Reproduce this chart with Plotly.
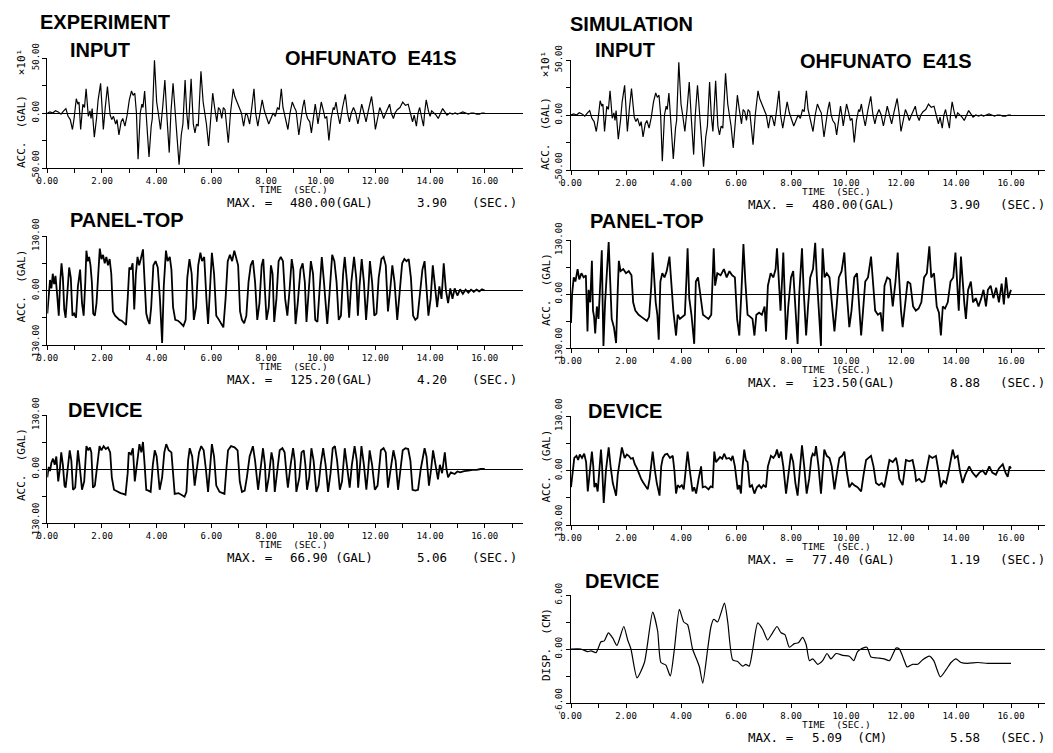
import plotly.graph_objects as go

W, H = 1053, 753

# ---------------- data (time in s, value as plotted) ----------------
# INPUT acceleration, units x10 GAL (same record for experiment and simulation)
INPUT_ACC = [
    (0.00, 0), (0.10, 1), (0.20, 0), (0.30, 2), (0.40, 1), (0.50, -1), (0.60, 2), (0.68, 4),
    (0.76, -3), (0.84, -6), (0.92, -15), (0.98, -5), (1.06, 13), (1.12, 8), (1.16, 10), (1.22, -15),
    (1.30, 8), (1.36, 5), (1.42, 22), (1.50, -3), (1.56, 2), (1.60, -5), (1.64, 4), (1.72, -22),
    (1.80, -5), (1.86, 12), (1.95, 27), (2.05, -15), (2.12, 5), (2.20, 24), (2.30, -2), (2.36, -6),
    (2.42, -3), (2.50, -10), (2.55, -6), (2.62, -20), (2.70, -8), (2.76, -5), (2.84, -12), (2.92, -2),
    (3.00, 12), (3.08, 20), (3.14, 16), (3.20, 18), (3.26, 0), (3.32, -42), (3.40, 0), (3.46, 8),
    (3.50, 5), (3.56, 20), (3.64, -10), (3.72, -40), (3.80, -12), (3.84, -5), (3.92, 48), (4.00, 10),
    (4.06, 0), (4.14, -15), (4.22, 5), (4.30, 30), (4.38, -5), (4.46, -36), (4.52, 0), (4.60, 27),
    (4.68, 0), (4.74, -20), (4.82, -47), (4.90, -20), (4.96, -10), (5.04, 30), (5.10, 0), (5.16, -15),
    (5.20, 10), (5.26, 31), (5.34, -10), (5.40, -18), (5.46, -10), (5.52, -12), (5.62, 38), (5.70, 10),
    (5.76, 0), (5.82, -10), (5.90, -30), (5.98, 0), (6.05, 18), (6.12, 5), (6.20, -8), (6.26, 5),
    (6.32, 3), (6.38, -5), (6.44, 5), (6.50, 3), (6.56, -10), (6.62, -27), (6.70, 0), (6.80, 22),
    (6.86, 15), (6.94, 10), (7.00, 5), (7.10, 0), (7.18, -12), (7.26, 0), (7.32, -2), (7.40, -10),
    (7.48, 5), (7.56, 22), (7.62, 0), (7.70, -12), (7.78, 0), (7.86, 12), (7.94, 2), (8.02, -5),
    (8.10, -10), (8.18, -5), (8.26, 0), (8.34, -3), (8.42, 5), (8.48, 3), (8.56, 22), (8.62, 5),
    (8.70, -5), (8.80, -15), (8.88, 0), (8.96, 10), (9.04, 5), (9.10, 2), (9.20, -20), (9.28, -5),
    (9.34, 5), (9.40, 12), (9.46, 0), (9.52, -5), (9.60, -8), (9.66, -18), (9.74, 0), (9.80, 8),
    (9.86, -2), (9.90, -10), (9.96, 0), (10.02, 10), (10.10, 2), (10.16, -5), (10.22, -3), (10.30, -25),
    (10.38, -5), (10.46, 5), (10.50, 3), (10.56, 10), (10.62, 0), (10.70, -10), (10.80, 5), (10.90, 17),
    (10.98, 0), (11.05, -8), (11.12, 0), (11.20, 5), (11.28, 0), (11.36, -10), (11.44, 0), (11.50, 8),
    (11.58, 0), (11.66, -8), (11.74, 2), (11.86, 15), (11.94, 0), (12.00, -15), (12.08, -5), (12.16, 5),
    (12.24, 0), (12.30, -5), (12.38, 0), (12.46, 5), (12.52, 8), (12.58, 0), (12.66, -5), (12.72, 0),
    (12.80, 3), (12.90, 5), (13.00, 10), (13.10, 7), (13.20, 8), (13.28, 0), (13.36, -8), (13.42, -2),
    (13.50, -12), (13.56, 0), (13.62, 5), (13.70, -5), (13.76, -12), (13.80, 0), (13.86, 12), (13.94, 2),
    (14.00, -3), (14.06, 2), (14.14, 0), (14.22, -2), (14.30, -5), (14.38, 0), (14.46, 4), (14.54, 1),
    (14.62, -2), (14.72, 0), (14.82, -1), (14.92, 0), (15.00, -1), (15.10, 0), (15.20, 1), (15.30, 0),
    (15.40, -1), (15.50, 0), (15.60, 0), (15.70, -1), (15.80, -1), (15.90, 0), (16.00, 0),
]

# Experiment PANEL-TOP acceleration (GAL)
PANEL_EXP = [
    (0.00, -55), (0.05, -20), (0.10, 25), (0.15, 5), (0.20, 40), (0.25, 15), (0.30, 35), (0.36, -10),
    (0.42, -60), (0.47, 20), (0.52, 65), (0.57, 30), (0.62, -45), (0.67, -65), (0.73, 0), (0.80, 55),
    (0.86, 30), (0.92, -60), (0.98, -55), (1.05, -65), (1.12, 10), (1.20, 50), (1.27, -30), (1.33, -60),
    (1.39, 20), (1.43, 95), (1.48, 70), (1.53, 80), (1.58, 60), (1.63, 20), (1.68, -55), (1.74, -60),
    (1.80, -30), (1.86, 40), (1.92, 100), (1.98, 75), (2.04, 85), (2.10, 65), (2.16, 80), (2.22, 60),
    (2.28, 75), (2.34, 40), (2.40, -50), (2.48, -60), (2.56, -65), (2.64, -70), (2.72, -72), (2.80, -78),
    (2.88, -82), (2.94, -20), (3.00, 55), (3.06, 50), (3.12, 65), (3.18, -45), (3.24, 40), (3.30, 80),
    (3.36, 60), (3.42, 75), (3.50, 98), (3.56, 20), (3.62, -55), (3.68, -70), (3.74, -80), (3.80, -40),
    (3.88, 60), (3.96, 70), (4.04, 55), (4.12, -20), (4.20, -125), (4.26, 10), (4.34, 95), (4.40, 70),
    (4.48, 80), (4.54, 50), (4.60, -40), (4.68, -70), (4.78, -72), (4.88, -78), (4.98, -85), (5.06, -70),
    (5.12, 30), (5.20, 75), (5.28, 40), (5.36, -70), (5.44, -40), (5.52, 60), (5.60, 90), (5.66, 70),
    (5.74, 80), (5.82, -20), (5.88, -80), (5.94, -10), (6.02, 90), (6.10, 40), (6.18, -60), (6.28, -70),
    (6.36, -80), (6.44, -88), (6.52, -20), (6.60, 70), (6.68, 85), (6.76, 70), (6.84, 95), (6.92, 75),
    (6.98, 60), (7.05, -50), (7.12, -70), (7.20, -78), (7.28, -60), (7.36, 20), (7.44, 60), (7.52, 72),
    (7.60, 20), (7.68, -70), (7.76, -30), (7.84, 60), (7.90, 75), (7.96, 0), (8.02, -70), (8.10, -40),
    (8.18, 60), (8.24, 40), (8.30, -75), (8.38, -20), (8.46, 70), (8.54, 80), (8.62, 70), (8.70, -20),
    (8.78, -60), (8.86, 0), (8.94, 75), (9.00, 50), (9.08, -80), (9.16, -30), (9.26, 50), (9.34, 65),
    (9.42, 20), (9.48, -75), (9.56, -10), (9.64, 70), (9.72, 40), (9.80, -70), (9.88, -75), (9.96, 10),
    (10.04, 80), (10.12, 20), (10.24, -80), (10.32, -10), (10.42, 85), (10.50, 70), (10.58, 20), (10.66, -70),
    (10.74, -60), (10.82, 40), (10.88, 80), (10.96, 20), (11.04, -65), (11.12, 20), (11.22, 80), (11.30, 30),
    (11.36, -60), (11.42, 10), (11.50, 75), (11.58, 20), (11.66, -70), (11.74, 0), (11.80, 70), (11.88, 20),
    (11.96, -60), (12.04, -55), (12.12, 30), (12.22, 75), (12.30, 80), (12.38, 60), (12.46, -50), (12.54, 0),
    (12.62, 60), (12.70, 20), (12.80, -70), (12.88, -10), (12.98, 65), (13.06, 75), (13.14, 70), (13.22, 75),
    (13.30, 30), (13.38, -60), (13.46, -70), (13.54, -65), (13.62, -20), (13.72, 50), (13.80, 70), (13.86, 20),
    (13.94, -60), (14.02, -20), (14.10, 60), (14.18, 10), (14.26, -40), (14.34, 10), (14.42, -20), (14.50, 65),
    (14.58, 0), (14.66, -30), (14.74, 5), (14.82, -20), (14.90, 5), (15.00, -12), (15.10, 3), (15.20, -8),
    (15.30, 2), (15.40, -5), (15.50, 2), (15.60, -3), (15.70, 2), (15.80, -2), (15.90, 3), (16.00, 0),
]

# Experiment DEVICE acceleration (GAL)
DEVICE_EXP = [
    (0.00, -20), (0.05, 5), (0.10, -5), (0.15, 15), (0.21, 25), (0.27, 10), (0.33, 30), (0.40, -30),
    (0.46, 0), (0.51, 40), (0.57, 10), (0.63, -40), (0.67, -45), (0.75, 0), (0.82, 45), (0.88, 20),
    (0.94, -50), (1.02, -45), (1.12, 45), (1.18, 10), (1.27, -50), (1.35, -30), (1.43, 55), (1.50, 45),
    (1.56, 52), (1.61, 40), (1.67, -45), (1.74, -40), (1.82, 10), (1.91, 55), (1.98, 45), (2.06, 55),
    (2.14, 48), (2.22, 52), (2.30, 40), (2.36, -20), (2.44, -50), (2.56, -55), (2.68, -58), (2.78, -60),
    (2.86, -62), (2.94, -10), (2.98, 40), (3.06, 35), (3.13, 50), (3.20, -30), (3.28, 20), (3.37, 60),
    (3.44, 40), (3.50, 65), (3.56, 10), (3.62, -50), (3.70, -52), (3.78, -55), (3.86, 10), (3.93, 45),
    (4.00, 30), (4.11, -50), (4.20, -20), (4.28, 40), (4.35, 60), (4.44, 45), (4.54, 40), (4.62, -30),
    (4.66, -60), (4.80, -58), (4.92, -62), (5.02, -66.9), (5.09, -55), (5.15, 20), (5.21, 50), (5.30, 30),
    (5.39, -40), (5.46, 0), (5.55, 40), (5.63, 55), (5.72, 45), (5.80, 0), (5.88, -55), (5.95, 0),
    (6.02, 60), (6.10, 30), (6.18, -40), (6.30, -55), (6.40, -58), (6.48, -60), (6.55, 0), (6.61, 45),
    (6.72, 55), (6.85, 52), (6.96, 45), (7.04, -30), (7.12, -55), (7.22, -52), (7.30, -20), (7.40, 30),
    (7.52, 55), (7.60, 20), (7.71, -50), (7.80, 0), (7.89, 50), (7.96, 10), (8.01, -55), (8.10, -20),
    (8.20, 40), (8.26, 20), (8.32, -55), (8.42, 0), (8.50, 45), (8.60, 50), (8.68, 40), (8.76, -20),
    (8.80, -45), (8.90, 10), (8.99, 50), (9.05, 20), (9.11, -55), (9.22, -20), (9.30, 40), (9.38, 45),
    (9.44, 10), (9.50, -50), (9.58, -20), (9.66, 50), (9.74, 20), (9.84, -55), (9.92, -40), (10.00, 10),
    (10.09, 50), (10.18, 10), (10.27, -55), (10.36, -10), (10.44, 50), (10.52, 55), (10.60, 20), (10.70, -50),
    (10.78, -30), (10.88, 50), (10.96, 10), (11.06, -45), (11.14, 10), (11.24, 55), (11.32, 20), (11.37, -45),
    (11.44, 10), (11.49, 55), (11.58, 10), (11.67, -50), (11.74, 0), (11.79, 45), (11.88, 10), (11.98, -50),
    (12.08, -40), (12.20, 45), (12.30, 50), (12.38, 40), (12.46, -45), (12.56, 0), (12.66, 45), (12.74, 20),
    (12.83, -50), (12.92, 0), (13.00, 45), (13.10, 50), (13.20, 48), (13.28, 20), (13.36, -50), (13.46, -52),
    (13.56, -50), (13.66, 0), (13.80, 50), (13.87, 30), (13.96, -40), (14.04, 0), (14.11, 45), (14.20, 10),
    (14.29, -25), (14.36, 10), (14.44, -10), (14.54, 40), (14.60, 0), (14.66, -20), (14.76, -8), (14.90, -12),
    (15.00, -6), (15.10, -8), (15.25, -5), (15.40, -4), (15.55, -2), (15.70, -2), (15.85, 0), (16.00, 0),
]

# Simulation PANEL-TOP acceleration (GAL)
PANEL_SIM = [
    (0.00, -70), (0.04, 0), (0.10, 40), (0.16, 30), (0.24, 60), (0.30, 35), (0.38, 50), (0.46, 40),
    (0.54, 45), (0.60, -90), (0.64, 10), (0.70, -20), (0.76, 80), (0.80, -40), (0.84, -55), (0.88, -95),
    (0.94, -30), (1.00, -60), (1.06, 20), (1.12, 105), (1.15, -20), (1.18, -125), (1.24, -20), (1.30, 40),
    (1.37, 125), (1.42, 40), (1.48, -60), (1.56, -80), (1.64, -118), (1.70, 10), (1.74, 80), (1.80, 55),
    (1.90, 60), (2.00, 50), (2.10, 55), (2.20, 45), (2.26, -20), (2.34, -40), (2.46, -50), (2.56, -55),
    (2.66, -60), (2.76, -65), (2.84, -55), (2.92, 20), (2.97, 100), (3.02, 40), (3.08, -20), (3.14, -50),
    (3.19, -110), (3.25, 30), (3.32, 50), (3.40, 40), (3.48, 55), (3.58, 90), (3.64, 40), (3.72, -40),
    (3.82, -100), (3.88, -50), (3.96, -60), (4.06, -55), (4.14, -50), (4.20, 40), (4.24, 110), (4.30, -10),
    (4.38, -50), (4.48, -120), (4.54, 30), (4.62, 40), (4.70, 0), (4.80, -50), (4.90, -55), (5.00, -60),
    (5.10, -50), (5.16, 40), (5.19, 110), (5.24, 20), (5.32, 50), (5.44, 45), (5.56, 60), (5.66, 40),
    (5.76, 55), (5.86, 45), (5.96, 40), (6.04, -60), (6.12, -100), (6.20, 10), (6.27, 120), (6.34, 30),
    (6.42, -50), (6.52, -55), (6.60, -60), (6.67, -100), (6.74, -50), (6.84, -45), (6.94, -50), (7.04, -30),
    (7.09, -90), (7.16, 20), (7.26, 50), (7.36, 40), (7.44, 60), (7.49, 110), (7.55, 30), (7.62, -40),
    (7.68, 40), (7.72, 100), (7.78, -20), (7.82, -110), (7.90, -30), (8.00, 40), (8.08, 55), (8.16, -50),
    (8.24, -120), (8.30, 0), (8.36, 60), (8.40, 110), (8.46, 10), (8.55, -100), (8.62, -30), (8.70, 40),
    (8.80, 60), (8.88, 123.5), (8.94, 40), (9.02, -40), (9.09, -125), (9.12, 30), (9.15, 110), (9.22, 40),
    (9.30, 50), (9.40, 40), (9.50, -40), (9.58, -90), (9.66, -30), (9.74, 40), (9.84, 55), (9.94, 100),
    (10.00, 30), (10.06, -40), (10.12, -80), (10.20, -40), (10.30, 40), (10.40, 50), (10.48, -30), (10.55, -100),
    (10.62, -40), (10.70, 30), (10.80, 40), (10.91, 90), (10.98, 30), (11.06, -40), (11.16, -50), (11.26, -45),
    (11.33, -90), (11.40, 20), (11.50, 40), (11.60, 35), (11.70, -30), (11.80, 30), (11.88, 100), (11.94, 20),
    (12.00, -40), (12.06, -80), (12.14, -30), (12.24, 30), (12.34, 25), (12.44, -30), (12.54, -40), (12.64, -35),
    (12.74, -20), (12.84, 40), (12.94, 50), (13.03, 115), (13.10, 40), (13.20, 50), (13.30, -30), (13.38, -45),
    (13.45, -100), (13.52, -30), (13.60, -35), (13.70, -20), (13.80, 30), (13.90, 40), (13.98, 100), (14.04, 10),
    (14.10, -40), (14.18, 90), (14.24, 20), (14.30, -20), (14.36, -60), (14.44, 10), (14.54, 30), (14.62, -20),
    (14.72, -10), (14.82, -30), (14.92, -10), (15.00, 10), (15.09, -30), (15.16, 10), (15.26, 20), (15.36, -10),
    (15.46, 15), (15.56, -20), (15.66, 25), (15.74, -25), (15.82, 40), (15.90, -10), (16.00, 10),
]

# Simulation DEVICE acceleration (GAL)
DEVICE_SIM = [
    (0.00, -40), (0.06, 0), (0.12, 30), (0.20, 35), (0.26, 25), (0.32, 38), (0.40, 30), (0.48, 40),
    (0.55, 20), (0.61, -50), (0.68, 0), (0.76, 45), (0.81, 10), (0.85, -40), (0.91, -30), (0.97, -50),
    (1.03, 0), (1.09, 50), (1.13, 10), (1.19, -77.4), (1.27, 0), (1.37, 55), (1.44, 10), (1.52, -30),
    (1.58, -45), (1.64, -60), (1.70, -10), (1.76, 20), (1.85, 55), (1.95, 30), (2.03, 38), (2.10, 35),
    (2.18, 28), (2.25, 30), (2.32, 15), (2.40, 5), (2.48, -10), (2.55, -20), (2.62, -28), (2.70, -35),
    (2.79, -45), (2.86, -20), (2.92, 20), (2.97, 45), (3.05, 0), (3.12, -30), (3.22, -60), (3.28, 10),
    (3.34, 30), (3.42, 38), (3.50, 40), (3.60, 30), (3.70, 35), (3.76, 0), (3.82, -55), (3.88, -35),
    (3.95, -40), (4.03, -35), (4.10, -45), (4.17, 10), (4.24, 45), (4.32, 0), (4.42, -50), (4.48, -40),
    (4.55, -55), (4.64, -20), (4.73, 10), (4.79, -40), (4.88, -38), (5.00, -45), (5.08, -38), (5.15, -40),
    (5.21, 45), (5.27, 20), (5.33, 25), (5.42, 32), (5.50, 28), (5.57, 40), (5.65, 28), (5.75, 30),
    (5.82, 25), (5.88, 35), (5.96, 10), (6.06, -45), (6.12, -35), (6.18, -55), (6.24, 10), (6.30, 50),
    (6.36, 25), (6.42, 20), (6.50, -40), (6.58, -35), (6.67, -55), (6.76, -40), (6.84, -35), (6.92, -42),
    (7.00, -35), (7.09, -40), (7.16, 10), (7.27, 35), (7.36, 30), (7.44, 38), (7.49, 50), (7.56, 30),
    (7.64, 45), (7.72, 10), (7.82, -55), (7.90, -10), (8.00, 40), (8.08, 20), (8.16, -30), (8.24, -60),
    (8.32, 10), (8.40, 60), (8.48, 10), (8.57, -55), (8.66, -20), (8.74, 30), (8.79, 40), (8.86, 35),
    (8.91, 58), (9.00, 10), (9.09, -55), (9.15, 10), (9.21, 50), (9.30, 35), (9.40, 30), (9.48, 10),
    (9.58, -45), (9.66, -10), (9.76, 30), (9.86, 35), (9.94, 45), (10.02, 0), (10.12, -40), (10.22, -30),
    (10.30, -35), (10.42, -40), (10.55, -50), (10.64, -10), (10.73, 25), (10.82, 30), (10.91, 35), (11.00, 10),
    (11.09, -30), (11.20, -35), (11.30, -30), (11.39, -40), (11.48, -5), (11.58, 25), (11.70, 20), (11.82, 30),
    (11.88, 10), (11.94, -20), (12.06, -35), (12.12, 0), (12.18, 25), (12.30, 22), (12.42, 25), (12.50, 0),
    (12.55, -25), (12.66, -20), (12.76, -28), (12.85, -25), (12.94, 10), (13.03, 35), (13.14, 30), (13.27, 35),
    (13.36, 0), (13.45, -40), (13.54, -25), (13.64, -30), (13.74, 0), (13.82, 30), (13.88, 50), (13.96, 30),
    (14.06, 35), (14.14, 0), (14.24, -30), (14.34, -10), (14.48, 10), (14.60, -5), (14.73, -15), (14.85, -5),
    (14.97, 0), (15.08, -10), (15.21, 10), (15.32, -5), (15.45, -10), (15.56, 5), (15.70, 15), (15.80, -5),
    (15.88, -15), (15.95, 10), (16.00, 5),
]

# Simulation DEVICE displacement (CM)
DISP_SIM = [
    (0.00, 0), (0.36, 0), (0.61, -0.3), (0.73, -0.2), (0.91, -0.4), (1.09, 0.8), (1.21, 0.9), (1.36, 1.8),
    (1.52, 1.2), (1.67, 0.4), (1.92, 2.5), (2.06, 1.0), (2.18, 0.0), (2.40, -3.2), (2.67, -1.5), (2.97, 4.1),
    (3.15, 2.0), (3.27, -1.5), (3.45, -1.8), (3.61, -3.0), (3.76, 0.0), (3.94, 4.4), (4.10, 3.0), (4.24, 2.7),
    (4.42, 0.0), (4.55, -1.0), (4.67, -2.0), (4.79, -3.8), (4.97, 0.0), (5.09, 2.5), (5.19, 3.3), (5.33, 3.0),
    (5.58, 5.09), (5.70, 3.0), (5.88, -1.2), (6.06, -1.4), (6.24, -1.9), (6.36, -1.7), (6.48, -1.9), (6.61, 0.0),
    (6.79, 2.9), (6.97, 2.2), (7.15, 1.0), (7.33, 1.8), (7.49, 2.5), (7.64, 1.8), (7.78, 1.6), (7.94, 0.2),
    (8.12, 0.6), (8.27, 0.7), (8.42, 1.3), (8.55, 0.5), (8.67, -1.3), (8.79, -1.1), (8.97, -1.7), (9.15, -1.3),
    (9.31, -0.5), (9.45, -1.1), (9.64, -0.5), (9.88, -0.7), (10.12, -0.8), (10.28, -1.3), (10.42, -0.3), (10.61, 0.1),
    (10.76, 0.2), (10.91, -0.9), (11.15, -1.0), (11.39, -1.1), (11.58, -1.3), (11.82, 0.1), (11.94, 0.0), (12.12, -1.3),
    (12.22, -2.0), (12.42, -1.7), (12.61, -1.7), (12.79, -1.2), (13.03, -0.8), (13.19, -1.3), (13.43, -3.1), (13.64, -2.3),
    (13.82, -1.5), (14.00, -1.1), (14.18, -1.5), (14.42, -1.6), (14.79, -1.5), (15.15, -1.6), (15.64, -1.6), (16.00, -1.6),
]

X_TICKS = list(range(0, 18))
X_TICK_LABELS = [f"{v:.2f}" if v % 2 == 0 and v <= 16 else "" for v in X_TICKS]

MAX_TEXTS = {
    "L1": ["MAX. =", "480.00(GAL)", "3.90", "(SEC.)"],
    "L2": ["MAX. =", "125.20(GAL)", "4.20", "(SEC.)"],
    "L3": ["MAX. =", "66.90 (GAL)", "5.06", "(SEC.)"],
    "R1": ["MAX. =", "480.00(GAL)", "3.90", "(SEC.)"],
    "R2": ["MAX. =", "i23.50(GAL)", "8.88", "(SEC.)"],
    "R3": ["MAX. =", "77.40 (GAL)", "1.19", "(SEC.)"],
    "R4": ["MAX. =", "5.09  (CM)", "5.58", "(SEC.)"],
}


# ---------------- layout helpers (screen pixels -> paper) ----------------
def px(x):
    return x / W


def py(y):
    return 1 - y / H


MONO = "DejaVu Sans Mono"
BOLD = "Liberation Sans"

panels = [
    dict(key="L1", data=INPUT_ACC, xl=39.3, xr=515, pps=27.34, yt=50, yb=160, r=50,
         ytitle="ACC.  (GAL)   ×10¹", title="INPUT", tx=60, ty=42, ytx=13),
    dict(key="L2", data=PANEL_EXP, xl=39.3, xr=515, pps=27.34, yt=228, yb=337, r=130,
         ytitle="ACC.  (GAL)", title="PANEL-TOP", tx=60, ty=212, ytx=13),
    dict(key="L3", data=DEVICE_EXP, xl=39.3, xr=515, pps=27.34, yt=407, yb=515, r=130,
         ytitle="ACC.  (GAL)", title="DEVICE", tx=58, ty=402, ytx=13),
    dict(key="R1", data=INPUT_ACC, xl=563, xr=1043, pps=27.5, yt=52, yb=162, r=50,
         ytitle="ACC.  (GAL)   ×10¹", title="INPUT", tx=585, ty=42, ytx=538),
    dict(key="R2", data=PANEL_SIM, xl=563, xr=1043, pps=27.5, yt=232, yb=340, r=130,
         ytitle="ACC.  (GAL)", title="PANEL-TOP", tx=580, ty=213, ytx=538),
    dict(key="R3", data=DEVICE_SIM, xl=563, xr=1043, pps=27.5, yt=408, yb=517, r=130,
         ytitle="ACC.  (GAL)", title="DEVICE", tx=578, ty=403, ytx=538),
    dict(key="R4", data=DISP_SIM, xl=563, xr=1043, pps=27.5, yt=587, yb=695, r=6,
         ytitle="DISP.  (CM)", title="DEVICE", tx=575, ty=573, ytx=538),
]

fig = go.Figure()
annotations = []
layout = {}

for i, p in enumerate(panels, start=1):
    suffix = "" if i == 1 else str(i)
    ts = [d[0] for d in p["data"]]
    vs = [d[1] for d in p["data"]]
    disp = p["key"] == "R4"
    inp = p["key"] in ("L1", "R1")
    fig.add_trace(go.Scatter(
        x=ts, y=vs, mode="lines",
        line=dict(color="black", width=1.2 if (inp or disp) else 1.8,
                  shape="spline" if disp else "linear", smoothing=0.6),
        xaxis="x" + suffix, yaxis="y" + suffix, showlegend=False, hoverinfo="skip",
    ))
    r = p["r"]
    xmax = (p["xr"] - p["xl"]) / p["pps"]
    layout["xaxis" + suffix] = dict(
        domain=[px(p["xl"]), px(p["xr"])], anchor="y" + suffix, range=[0, xmax],
        automargin=False,
        showline=True, linecolor="black", linewidth=1.3, showgrid=False, zeroline=False,
        tickvals=X_TICKS, ticktext=X_TICK_LABELS, ticks="outside", ticklen=4,
        tickcolor="black", tickwidth=1.2,
        tickfont=dict(family=MONO, size=9, color="black"),
    )
    layout["yaxis" + suffix] = dict(
        domain=[py(p["yb"]), py(p["yt"])], anchor="x" + suffix, range=[-r, r],
        automargin=False,
        showline=True, linecolor="black", linewidth=1.3, showgrid=False,
        zeroline=True, zerolinecolor="black", zerolinewidth=1.2,
        tickvals=[-r, -r / 2, 0, r / 2, r],
        ticktext=[f"{-r:.2f}", "", "0.00", "", f"{r:.2f}"],
        tickangle=-90, ticks="outside", ticklen=4, tickcolor="black", tickwidth=1.2,
        tickfont=dict(family=MONO, size=9, color="black"),
    )
    annotations.append(dict(
        x=px(p["tx"]), y=py(p["ty"]), xref="paper", yref="paper", xanchor="left", yanchor="middle",
        text="<b>" + p["title"] + "</b>", showarrow=False,
        font=dict(family=BOLD, size=20, color="black"),
    ))
    annotations.append(dict(
        x=px(p["ytx"]), y=py((p["yt"] + p["yb"]) / 2 - 4), xref="paper", yref="paper",
        xanchor="center", yanchor="middle", textangle=-90,
        text=p["ytitle"], showarrow=False,
        font=dict(family=MONO, size=11, color="black"),
    ))
    left = p["key"].startswith("L")
    annotations.append(dict(
        x=px(285 if left else 828), y=py(p["yb"] + 21), xref="paper", yref="paper",
        xanchor="center", yanchor="middle", text="TIME  (SEC.)", showarrow=False,
        font=dict(family=MONO, size=9.5, color="black"),
    ))
    xs = [217, 280, 407, 462] if left else [738, 802, 940, 990]
    for txt, xx in zip(MAX_TEXTS[p["key"]], xs):
        annotations.append(dict(
            x=px(xx), y=py(p["yb"] + 34), xref="paper", yref="paper",
            xanchor="left", yanchor="middle", text=txt, showarrow=False,
            font=dict(family=MONO, size=12.5, color="black"),
        ))

for txt, xx, yy in [("EXPERIMENT", 30, 14), ("SIMULATION", 560, 16),
                    ("OHFUNATO  E41S", 275, 50), ("OHFUNATO  E41S", 790, 53)]:
    annotations.append(dict(
        x=px(xx), y=py(yy), xref="paper", yref="paper", xanchor="left", yanchor="middle",
        text="<b>" + txt + "</b>", showarrow=False,
        font=dict(family=BOLD, size=20, color="black"),
    ))

fig.update_layout(
    template="none",
    width=W, height=H, margin=dict(l=0, r=0, t=0, b=0, pad=0, autoexpand=False),
    paper_bgcolor="white", plot_bgcolor="white",
    annotations=annotations, **layout,
)

fig.write_html("out.html")
